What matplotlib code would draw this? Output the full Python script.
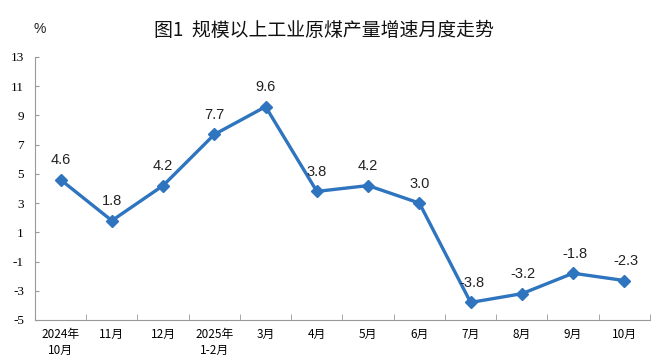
import matplotlib
matplotlib.use("Agg")
import matplotlib.pyplot as plt

categories = ["2024年\n10月", "11月", "12月", "2025年\n1-2月", "3月", "4月", "5月", "6月", "7月", "8月", "9月", "10月"]
values = [4.6, 1.8, 4.2, 7.7, 9.6, 3.8, 4.2, 3.0, -3.8, -3.2, -1.8, -2.3]
yticks = [13, 11, 9, 7, 5, 3, 1, -1, -3, -5]
title = "图1  规模以上工业原煤产量增速月度走势"

color = "#2F74BF"
fig = plt.figure(figsize=(6.69, 3.63), dpi=100)
ax = fig.add_axes([0.0523, 0.1185, 0.9193, 0.7245])
x = list(range(len(values)))
ax.plot(x, values, color=color, lw=2.4, marker="D", ms=6, mfc=color, mec=color, zorder=3)
for xi, v in zip(x, values):
    ax.annotate(f"{v:.1f}", (xi, v), xytext=(1 if v < 0 else 0, 9), textcoords="offset points",
                ha="center", va="bottom", fontsize=10.5, family="Liberation Sans", color="#222222")
ax.set_xlim(-0.5, len(values) - 0.5)
ax.set_ylim(-5, 13)
ax.set_yticks(yticks)
ax.set_yticklabels([str(t) for t in yticks], family="Liberation Serif", fontsize=9.5)
ax.set_xticks(x)
ax.set_xticklabels(categories, family=["Noto Sans CJK SC", "DejaVu Sans"], fontsize=8.5, linespacing=1.3)
ax.set_xticks([i - 0.5 for i in range(len(values) + 1)], minor=True)
ax.tick_params(axis="x", which="major", length=0, pad=6)
ax.tick_params(axis="x", which="minor", length=4, direction="in", color="#999999")
ax.tick_params(axis="y", length=3, direction="in", color="#999999", pad=8)
for s in ["top", "right"]:
    ax.spines[s].set_visible(False)
for s in ["left", "bottom"]:
    ax.spines[s].set_color("#999999")
    ax.spines[s].set_linewidth(0.8)
fig.text(0.484, 0.917, title, ha="center", va="center", fontsize=13.6,
         family=["Noto Sans CJK SC", "DejaVu Sans"], color="#111111")
fig.text(0.06, 0.92, "%", ha="center", va="center", fontsize=10, family="Liberation Sans", color="#222222")
fig.savefig("out.png", dpi=100)
